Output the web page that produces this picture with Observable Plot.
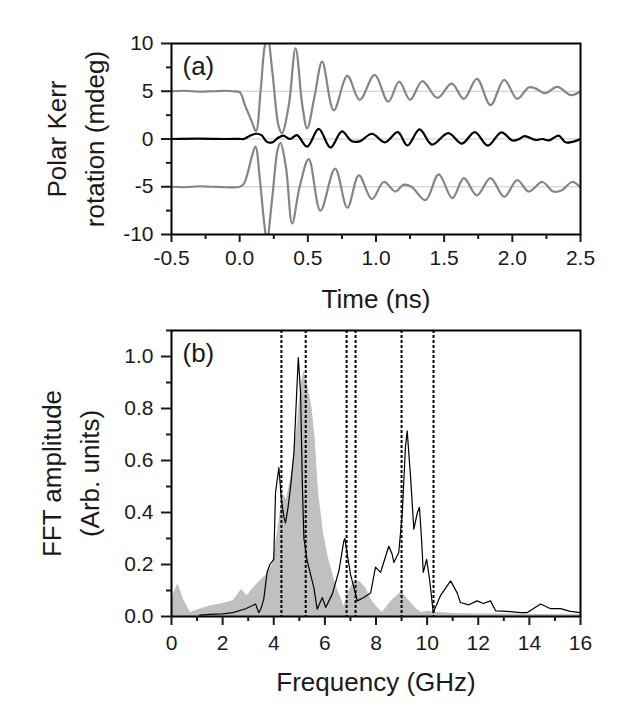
<!DOCTYPE html>
<html><head><meta charset="utf-8">
<script src="https://cdn.jsdelivr.net/npm/d3@7"></script>
<script src="https://cdn.jsdelivr.net/npm/@observablehq/plot@0.6"></script>
<style>
body{margin:0;background:#fff;width:628px;height:716px;overflow:hidden}
svg{display:block}
</style>
</head><body><div id="chart"></div>
<script>
// ---- Panel (a): time-resolved polar Kerr rotation (mdeg) ----
const topTime = [-0.5,-0.4,-0.3,-0.2,-0.1,-0.05,0.0,0.04,0.09,0.12,0.155,0.185,0.205,0.24,0.285,0.31,0.36,0.41,0.46,0.495,0.55,0.605,0.69,0.79,0.88,0.99,1.09,1.17,1.25,1.34,1.45,1.555,1.644,1.74,1.84,1.94,2.036,2.12,2.17,2.24,2.33,2.43,2.5];
const topKerr = [5.0,5.05,4.95,5.0,5.05,5.0,4.9,3.5,1.8,0.8,5.3,9.8,10.6,7.0,1.4,0.6,3.5,9.5,3.5,1.1,4.5,8.1,3.0,6.6,4.1,6.7,3.9,6.0,4.1,6.05,4.3,5.8,4.2,6.3,3.55,6.2,4.2,5.4,5.3,4.8,5.45,4.6,5.0];

const botTime = [-0.5,-0.4,-0.3,-0.2,-0.1,0.0,0.03,0.06,0.09,0.116,0.15,0.18,0.2,0.24,0.28,0.3,0.34,0.385,0.44,0.507,0.592,0.70,0.79,0.874,0.97,1.057,1.143,1.2,1.26,1.363,1.46,1.56,1.644,1.74,1.84,1.94,2.036,2.12,2.22,2.3,2.36,2.44,2.5];
const botKerr = [-5.0,-5.05,-4.95,-5.0,-5.05,-5.0,-4.7,-3.5,-1.8,-0.8,-4.5,-8.8,-10.6,-6.0,-1.0,-0.4,-3.0,-8.85,-5.0,-2.1,-7.5,-3.1,-7.2,-3.8,-6.3,-4.5,-5.5,-4.8,-5.0,-6.4,-3.7,-6.2,-4.1,-5.9,-4.1,-6.05,-4.3,-5.5,-4.5,-5.5,-5.4,-4.5,-5.1];

const midTime = [-0.5,-0.3,-0.1,0.0,0.03,0.07,0.12,0.16,0.2,0.24,0.28,0.32,0.37,0.42,0.495,0.58,0.666,0.75,0.82,0.88,0.97,1.065,1.16,1.23,1.32,1.41,1.53,1.63,1.725,1.82,1.92,2.0,2.05,2.09,2.17,2.22,2.27,2.34,2.39,2.44,2.5];
const midKerr = [0,0.03,0,0.02,0,0.3,0.55,0.4,-0.3,-0.35,0.1,0.35,0.0,0.4,-0.8,1.05,-0.9,0.8,-0.2,-0.25,0.55,-0.35,0.72,-0.68,1.0,-0.58,0.62,-0.48,0.72,-0.7,0.7,-0.15,0.0,0.3,-0.1,0.0,-0.15,0.36,-0.35,-0.3,0.0];

const kerrGuides = [-5, 0, 5];
const timeTicks = [-0.5, 0.0, 0.5, 1.0, 1.5, 2.0, 2.5];
const timeMinor = [-0.25, 0.25, 0.75, 1.25, 1.75, 2.25];
const kerrTicks = [-10, -5, 0, 5, 10];
const kerrMinor = [-7.5, -2.5, 2.5, 7.5];

// ---- Panel (b): FFT amplitude ----
const grayFreq = [0,0.25,0.5,0.75,1.0,1.5,2.0,2.4,2.75,2.95,3.3,3.7,3.95,4.15,4.35,4.5,4.7,4.9,5.05,5.18,5.35,5.5,5.62,5.75,5.95,6.15,6.4,6.55,6.75,6.95,7.1,7.35,7.6,7.8,8.0,8.25,8.6,9.0,9.3,9.6,9.8,10.0,10.5,11,12,13,14,15,16];
const grayAmp = [0.07,0.125,0.06,0.015,0.025,0.04,0.05,0.06,0.105,0.08,0.12,0.16,0.2,0.33,0.47,0.45,0.55,0.72,0.88,0.945,0.88,0.8,0.68,0.48,0.32,0.22,0.13,0.09,0.04,0.1,0.13,0.137,0.11,0.067,0.04,0.015,0.06,0.095,0.06,0.028,0.015,0.02,0.015,0.012,0.01,0.01,0.008,0.008,0.008];

const lineFreq = [1.1,1.5,2.0,2.4,2.9,3.29,3.41,3.5,3.61,3.74,3.85,4.0,4.07,4.2,4.3,4.4,4.46,4.56,4.66,4.79,4.96,5.05,5.12,5.18,5.31,5.57,5.7,5.9,6.03,6.29,6.55,6.74,6.78,7.0,7.27,7.52,7.79,7.98,8.18,8.5,8.63,8.7,8.89,9.03,9.15,9.22,9.35,9.48,9.62,9.7,9.78,9.85,9.98,10.1,10.24,10.52,10.92,11.18,11.3,11.63,11.96,12.2,12.48,12.68,13.1,13.65,13.92,14.44,14.83,15.22,15.6,16];
const lineAmp = [0.005,0.008,0.01,0.015,0.03,0.048,0.015,0.03,0.067,0.17,0.2,0.22,0.477,0.573,0.45,0.38,0.36,0.42,0.5,0.63,0.996,0.86,0.5,0.3,0.214,0.11,0.028,0.073,0.035,0.086,0.176,0.29,0.30,0.163,0.06,0.073,0.09,0.19,0.17,0.27,0.24,0.208,0.246,0.4,0.65,0.714,0.54,0.336,0.4,0.42,0.3,0.17,0.22,0.14,0.015,0.08,0.137,0.09,0.054,0.045,0.06,0.05,0.06,0.022,0.02,0.015,0.015,0.048,0.03,0.03,0.02,0.015];

const markerFreqs = [4.3, 5.25, 6.85, 7.2, 9.0, 10.25];
const freqTicks = [0, 2, 4, 6, 8, 10, 12, 14, 16];
const freqMinor = [1, 3, 5, 7, 9, 11, 13, 15];
const ampTicks = [0, 0.2, 0.4, 0.6, 0.8, 1.0];
const ampMinor = [0.1, 0.3, 0.5, 0.7, 0.9, 1.1];

const zipXY = (xs, ys) => xs.map((x, i) => ({x, y: ys[i]}));
const topData = zipXY(topTime, topKerr);
const botData = zipXY(botTime, botKerr);
const midData = zipXY(midTime, midKerr);
const grayData = zipXY(grayFreq, grayAmp);
const lineData = zipXY(lineFreq, lineAmp);

const font = "'Liberation Sans', Arial, Helvetica, sans-serif";
const ink = "#1a1a1a";
const common = {
  width: 628, marginLeft: 171, marginRight: 48,
  style: {fontFamily: font, fontSize: "21px", color: ink, background: "white", overflow: "visible"}
};
const vtitle = (s, dx) => Plot.text([s], {text: d => d, frameAnchor: "left", textAnchor: "middle", lineAnchor: "middle", dx, rotate: -90, fontSize: 26});

const panelA = Plot.plot({
  ...common,
  height: 320, marginTop: 43, marginBottom: 86,
  x: {domain: [-0.5, 2.5], label: null},
  y: {domain: [-10, 10], label: null},
  marks: [
    Plot.ruleY(kerrGuides, {stroke: "#c8c8c8", strokeWidth: 1.2}),
    Plot.line(topData, {x: "x", y: "y", stroke: "#858585", strokeWidth: 2.2, curve: "catmull-rom", clip: true}),
    Plot.line(botData, {x: "x", y: "y", stroke: "#858585", strokeWidth: 2.2, curve: "catmull-rom", clip: true}),
    Plot.line(midData, {x: "x", y: "y", stroke: "black", strokeWidth: 2.2, curve: "catmull-rom", clip: true}),
    Plot.frame({stroke: "black", strokeWidth: 2}),
    Plot.axisX({ticks: timeTicks, tickSize: 8, tickPadding: 8, tickFormat: d => d.toFixed(1), label: null, strokeWidth: 2, fontSize: 21}),
    Plot.axisX({ticks: timeMinor, tickSize: 5, tickFormat: () => "", label: null, strokeWidth: 2}),
    Plot.axisY({ticks: kerrTicks, tickSize: 10, tickPadding: 8, tickFormat: d => String(d), label: null, strokeWidth: 2, fontSize: 21}),
    Plot.axisY({ticks: kerrMinor, tickSize: 5, tickFormat: () => "", label: null, strokeWidth: 2}),
    Plot.text(["Time (ns)"], {text: d => d, frameAnchor: "bottom", lineAnchor: "top", dy: 55, fontSize: 26}),
    vtitle("Polar Kerr", -114),
    vtitle("rotation (mdeg)", -76),
    Plot.text(["(a)"], {text: d => d, frameAnchor: "top-left", textAnchor: "start", lineAnchor: "top", dx: 11, dy: 13, fontSize: 26})
  ]
});

const panelB = Plot.plot({
  ...common,
  height: 396, marginTop: 10, marginBottom: 100,
  x: {domain: [0, 16], label: null},
  y: {domain: [0, 1.1], label: null},
  marks: [
    Plot.areaY(grayData, {x: "x", y: "y", fill: "#c0c0c0"}),
    Plot.line(lineData, {x: "x", y: "y", stroke: "black", strokeWidth: 1.2}),
    Plot.ruleX(markerFreqs, {stroke: "black", strokeWidth: 2, strokeDasharray: "3,2"}),
    Plot.frame({stroke: "black", strokeWidth: 2}),
    Plot.axisX({ticks: freqTicks, tickSize: 9, tickPadding: 10, tickFormat: d => String(d), label: null, strokeWidth: 2, fontSize: 21}),
    Plot.axisX({ticks: freqMinor, tickSize: 5, tickFormat: () => "", label: null, strokeWidth: 2}),
    Plot.axisY({ticks: ampTicks, tickSize: 10, tickPadding: 8, tickFormat: d => d.toFixed(1), label: null, strokeWidth: 2, fontSize: 21}),
    Plot.axisY({ticks: ampMinor, tickSize: 5, tickFormat: () => "", label: null, strokeWidth: 2}),
    Plot.text(["Frequency (GHz)"], {text: d => d, frameAnchor: "bottom", lineAnchor: "top", dy: 56, fontSize: 26}),
    vtitle("FFT amplitude", -119),
    vtitle("(Arb. units)", -81),
    Plot.text(["(b)"], {text: d => d, frameAnchor: "top-left", textAnchor: "start", lineAnchor: "top", dx: 11, dy: 13, fontSize: 26})
  ]
});

const chart = document.getElementById("chart");
chart.appendChild(panelA);
chart.appendChild(panelB);
</script>
</body></html>
